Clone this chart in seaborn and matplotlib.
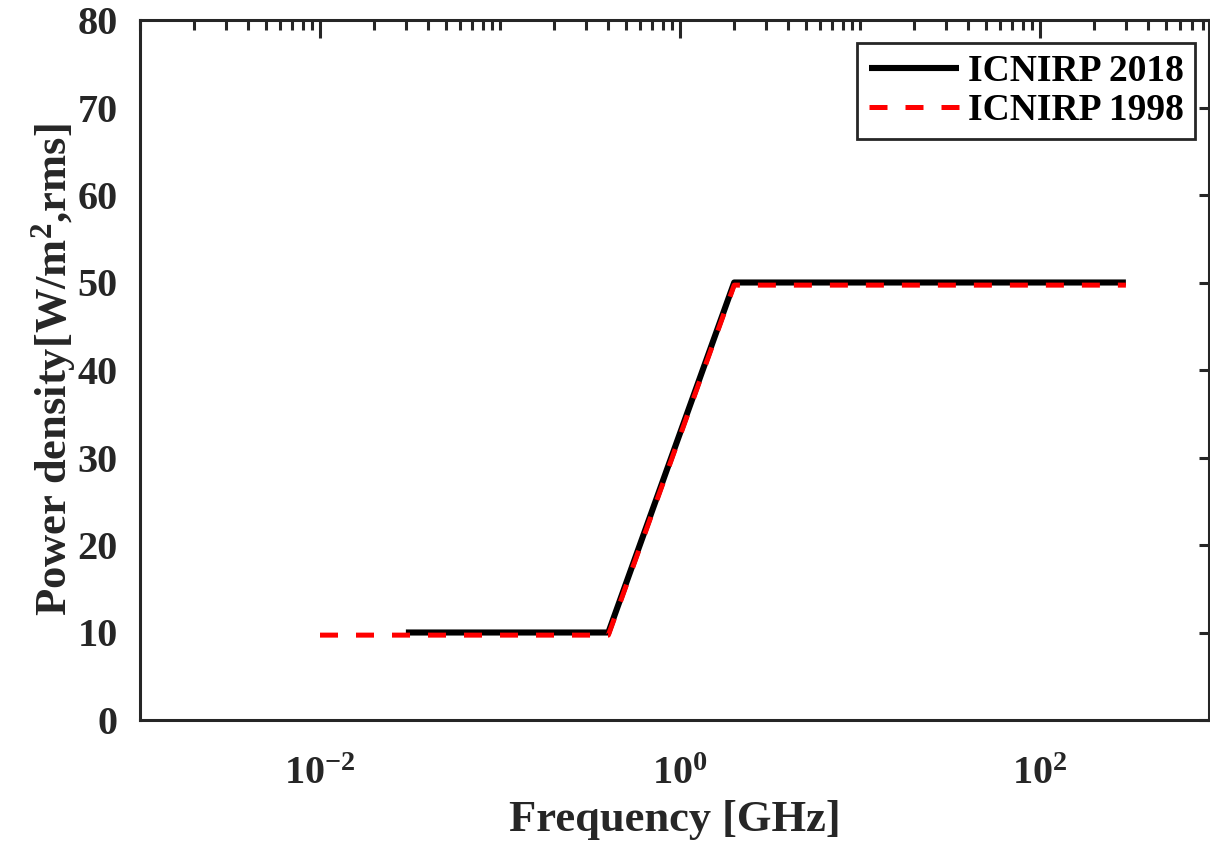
import numpy as np
import pandas as pd
import matplotlib
matplotlib.use("Agg")
import matplotlib.pyplot as plt
import matplotlib.ticker as mticker
import seaborn as sns

# ---- data ----
freq_2018 = [0.03, 0.4, 2.0, 300.0]
pd_2018 = [10, 10, 50, 50]
freq_1998 = [0.01, 0.4, 2.0, 300.0]
pd_1998 = [9.7, 9.7, 49.7, 49.7]
series_names = ["ICNIRP 2018", "ICNIRP 1998"]
y_ticks = [0, 10, 20, 30, 40, 50, 60, 70, 80]
x_major_ticks = [1e-2, 1e0, 1e2]

sns.set_theme(style="white")
plt.rcParams["font.family"] = ["Liberation Serif", "DejaVu Serif"]
plt.rcParams["font.weight"] = "bold"
plt.rcParams["mathtext.fontset"] = "custom"
plt.rcParams["mathtext.rm"] = "Liberation Serif:bold"
plt.rcParams["mathtext.bf"] = "Liberation Serif:bold"
plt.rcParams["mathtext.it"] = "Liberation Serif:bold"

W, H = 1210, 843
fig = plt.figure(figsize=(W / 100, H / 100), dpi=100)
L, R, T, B = 140, 1209, 20, 720
ax = fig.add_axes([L / W, 1 - B / H, (R - L) / W, (B - T) / H])

df18 = pd.DataFrame({"f": freq_2018, "p": pd_2018})
df98 = pd.DataFrame({"f": freq_1998, "p": pd_1998})

sns.lineplot(data=df18, x="f", y="p", ax=ax, color="black", linewidth=4.4,
             sort=False, label=series_names[0], solid_capstyle="butt",
             solid_joinstyle="round")
sns.lineplot(data=df98, x="f", y="p", ax=ax, color="#ff0000", linewidth=3.6,
             sort=False, label=series_names[1], dash_capstyle="butt",
             linestyle=(0, (3.6, 3.6)))

ax.set_xscale("log")
ax.set_xlim(1e-3, 10 ** ((R - L) / 180 - 3))
ax.set_ylim(0, 80)
ax.set_yticks(y_ticks)
ax.set_yticklabels([str(v) for v in y_ticks])
ax.xaxis.set_major_locator(mticker.FixedLocator(x_major_ticks))
ax.xaxis.set_minor_locator(mticker.LogLocator(base=10, subs=np.arange(1, 10), numticks=50))
ax.xaxis.set_major_formatter(mticker.FuncFormatter(
    lambda v, p: r"$\mathbf{10^{%d}}$" % int(round(np.log10(v)))))
ax.xaxis.set_minor_formatter(mticker.NullFormatter())

gray = "#262626"
for s in ax.spines.values():
    s.set_visible(True)
    s.set_color(gray)
    s.set_linewidth(2.2)

ax.tick_params(axis="both", which="both", direction="in", top=True, right=True,
               colors=gray, labelcolor=gray, width=2.2)
ax.tick_params(axis="x", which="major", length=13, labelsize=29, pad=26)
ax.tick_params(axis="x", which="minor", length=7)
ax.tick_params(axis="y", which="major", length=7, labelsize=29, pad=16)

ax.set_xlabel("Frequency [GHz]", fontsize=32, fontweight="bold", color=gray, labelpad=5)
ax.set_ylabel(r"Power density[W/m$^{\mathbf{2}}$,rms]", fontsize=32,
              fontweight="bold", color=gray, labelpad=0)

leg = ax.legend(loc="upper right", fontsize=27, frameon=True, fancybox=False,
                handlelength=2.4, borderpad=0.3, labelspacing=0.1,
                handletextpad=0.25, borderaxespad=0.0,
                bbox_to_anchor=(1 - 14 / (R - L), 1 - 23 / (B - T)))
leg.get_frame().set_edgecolor(gray)
leg.get_frame().set_linewidth(2.0)
leg.get_frame().set_alpha(1)
for t in leg.get_texts():
    t.set_color("black")

fig.savefig("out.png", dpi=100)
